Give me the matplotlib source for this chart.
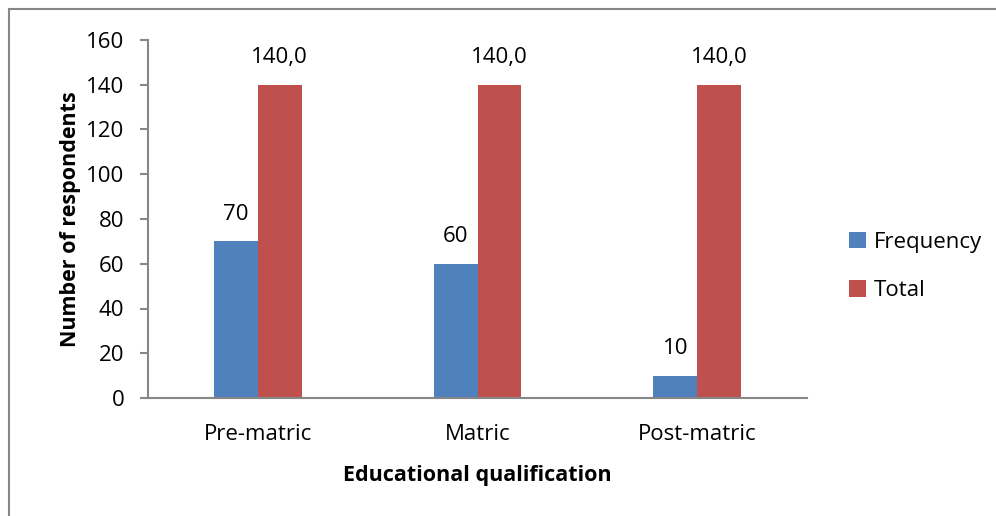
import matplotlib.pyplot as plt
from matplotlib.patches import Rectangle
import numpy as np

categories = ["Pre-matric", "Matric", "Post-matric"]
frequency = [70, 60, 10]
total = [140, 140, 140]
freq_labels = ["70", "60", "10"]
total_labels = ["140,0", "140,0", "140,0"]

blue = "#4F81BD"
red = "#C0504D"
grey = "#868686"

plt.rcParams["font.family"] = ["Open Sans", "DejaVu Sans"]

fig = plt.figure(figsize=(9.96, 5.16), dpi=100)
ax = fig.add_axes([148 / 996, 118 / 516, 659 / 996, 358 / 516])

# outer chart border (only top and left edges show in the crop)
fig.patches.append(Rectangle((9 / 996, -0.1), 1.2, 1.1 - 9 / 516,
                             transform=fig.transFigure, fill=False,
                             edgecolor=grey, linewidth=1.5))

x = np.arange(len(categories))
w = 0.2
b1 = ax.bar(x - w / 2, frequency, w, color=blue, label="Frequency")
b2 = ax.bar(x + w / 2, total, w, color=red, label="Total")

for bars, labels in [(b1, freq_labels), (b2, total_labels)]:
    for bar, lab in zip(bars, labels):
        ax.annotate(lab, (bar.get_x() + bar.get_width() / 2, bar.get_height()),
                    xytext=(0, 19.5), textcoords="offset points",
                    ha="center", va="center", fontsize=16)

ax.set_xlim(-0.5, 2.5)
ax.set_ylim(0, 160)
ax.set_yticks(range(0, 161, 20))
ax.set_xticks(x)
ax.set_xticklabels(categories)

for s in ["top", "right"]:
    ax.spines[s].set_visible(False)
for s in ["left", "bottom"]:
    ax.spines[s].set_color(grey)
    ax.spines[s].set_linewidth(1.5)

ax.tick_params(axis="y", length=6, width=1.5, color=grey, labelsize=16, pad=11)
ax.tick_params(axis="x", length=0, labelsize=16, pad=19)

ax.set_xlabel("Educational qualification", fontsize=15.5, fontweight="bold", labelpad=14)
ax.set_ylabel("Number of respondents", fontsize=15.5, fontweight="bold", labelpad=4)

leg = ax.legend(loc="upper left", bbox_to_anchor=(849 / 996, (516 - 232) / 516),
                bbox_transform=fig.transFigure, frameon=False,
                fontsize=16, handlelength=0.75, handleheight=0.75, labelspacing=1.22,
                handletextpad=0.35, borderpad=0, borderaxespad=0)

plt.savefig("out.png", dpi=100)
